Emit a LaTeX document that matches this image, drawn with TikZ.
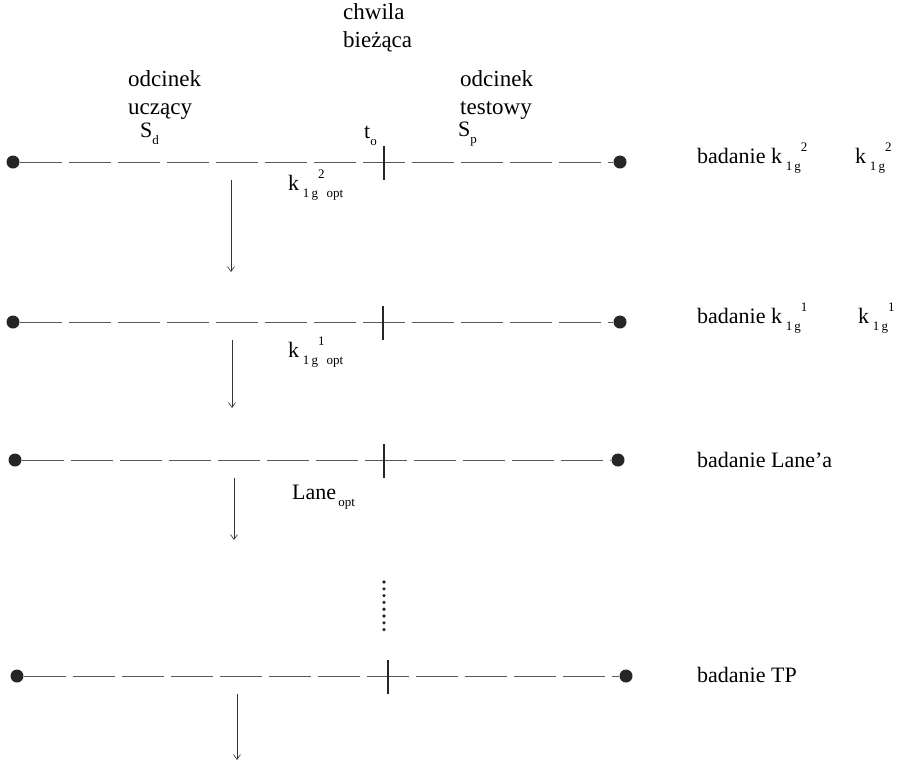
\documentclass[tikz,border=0pt]{standalone}
\usepackage{fontspec}
\setmainfont{Liberation Serif}
\usetikzlibrary{arrows.meta}
\newcommand{\lo}[1]{\raisebox{-0.3em}{\fontsize{13}{13}\selectfont #1}}
\newcommand{\hi}[1]{\raisebox{0.55em}{\fontsize{13}{13}\selectfont #1}}
\newcommand{\klg}[1]{k\,\lo{1\,g}\hi{#1}}

\begin{document}
\begin{tikzpicture}[x=1pt,y=-1pt,>={Straight Barb[length=5pt,width=7pt]},
  txt/.style={font=\fontsize{22}{27}\selectfont,inner sep=0pt,anchor=west,align=left},
  head/.style={txt,font=\fontsize{23}{28}\selectfont},
  dot/.style={circle,fill=black!85,minimum size=13pt,inner sep=0pt},
  timeline/.style={black!65,line width=0.9pt,dash pattern=on 42pt off 7pt},
  tick/.style={black!85,line width=1.6pt},
  flow/.style={->,black!80,line width=0.6pt}]
  \useasboundingbox (0,0) rectangle (913,761);
  % header
  \node[head] (now) at (343,28) {chwila\\bieżąca};
  \node[head] (learn) at (128,95) {odcinek\\uczący};
  \node[head] (test) at (460,95) {odcinek\\testowy};
  \node[txt] (sd) at (140,134) {S\lo{d}};
  \node[txt] (to) at (364,136) {t\lo{o}};
  \node[txt] (sp) at (458,134) {S\lo{p}};
  % rows: name / y / left x / right x / tick x / arrow x / arrow end
  \foreach \r/\y/\xl/\xr/\xt/\xa/\ye in {a/162/13/620/384/231/272,
      b/322/13/620/383/232/408, c/460/15/618/384/234/540, d/676/17/626/388/237/760}{
    \node[dot] (l\r) at (\xl,\y) {};
    \node[dot] (r\r) at (\xr,\y) {};
    \draw[timeline] (l\r) -- (r\r);
    \coordinate (t\r1) at (\xt,\y-16);
    \coordinate (t\r2) at (\xt,\y+18);
    \draw[tick] (t\r1) -- (t\r2);
    \coordinate (s\r1) at (\xa,\y+18);
    \coordinate (s\r2) at (\xa,\ye);
    \draw[flow] (s\r1) -- (s\r2);
  }
  % row labels
  \node[txt] (opta) at (288,185) {\klg{2}\lo{\,opt}};
  \node[txt] (optb) at (288,352) {\klg{1}\lo{\,opt}};
  \node[txt] (optc) at (292,497) {Lane\lo{\,opt}};
  \node[txt] (bada) at (697,158) {badanie \klg{2}};
  \node[txt] (ka) at (855,158) {\klg{2}};
  \node[txt] (badb) at (697,318) {badanie \klg{1}};
  \node[txt] (kb) at (858,318) {\klg{1}};
  \node[txt] (badc) at (697,460) {badanie Lane’a};
  \node[txt] (badd) at (697,675) {badanie TP};
  % continuation dots
  \coordinate (cont1) at (384,582);
  \coordinate (cont2) at (384,630);
  \draw[black!85,line width=3.6pt,line cap=round,dash pattern=on 0pt off 6.8pt] (cont1) -- (cont2);
\end{tikzpicture}
\end{document}
